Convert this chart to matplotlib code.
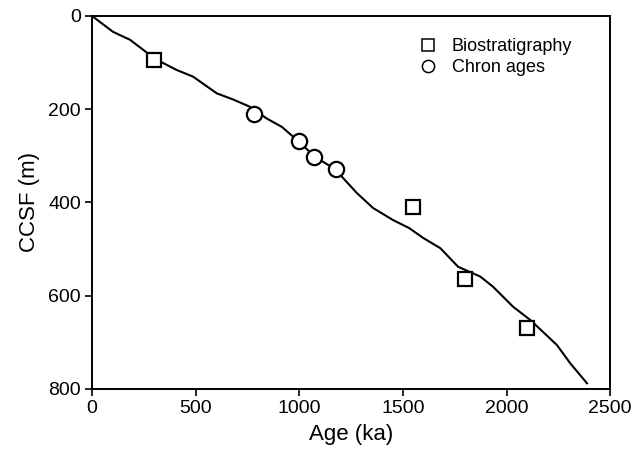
import matplotlib
matplotlib.use("Agg")
import matplotlib.pyplot as plt

plt.rcParams['font.family'] = ['Liberation Sans', 'DejaVu Sans']

# age model curve (ka vs CCSF depth in m)
curve_age = [0, 101, 183, 304, 409, 487, 602, 680, 763, 843, 916, 988, 1076, 1173,
             1278, 1356, 1453, 1530, 1597, 1680, 1766, 1873, 1935, 2032, 2114, 2243, 2307, 2388]
curve_depth = [0, 34, 51, 92, 116, 130, 166, 179, 195, 220, 238, 266, 302, 329,
               380, 412, 438, 455, 476, 498, 538, 559, 581, 624, 652, 706, 745, 788]

# tie points
bio_age = [300, 1550, 1800, 2100]
bio_depth = [95, 409, 564, 670]
chron_age = [780, 1000, 1070, 1175]
chron_depth = [210, 268, 303, 328]

fig = plt.figure(figsize=(6.35, 4.57), dpi=100)
ax = fig.add_axes([0.145, 0.149, 0.816, 0.816])

ax.plot(curve_age, curve_depth, color='black', lw=1.5, zorder=2)
ax.plot(bio_age, bio_depth, 's', ms=10, mfc='white', mec='black', mew=1.6,
        label='Biostratigraphy', zorder=3)
ax.plot(chron_age, chron_depth, 'o', ms=11, mfc='white', mec='black', mew=1.6,
        label='Chron ages', zorder=3)

ax.set_xlim(0, 2500)
ax.set_ylim(800, 0)
ax.set_xticks([0, 500, 1000, 1500, 2000, 2500])
ax.set_yticks([0, 200, 400, 600, 800])
ax.tick_params(direction='out', length=5, width=1.2, labelsize=14, pad=3)
for s in ax.spines.values():
    s.set_linewidth(1.4)

ax.set_xlabel('Age (ka)', fontsize=16, labelpad=5)
ax.set_ylabel('CCSF (m)', fontsize=16, labelpad=6)

leg = ax.legend(loc='upper right', bbox_to_anchor=(0.972, 1.004), frameon=False,
                fontsize=13, markerscale=0.8, handletextpad=0.3, labelspacing=0.25,
                borderaxespad=0.9)
for h in leg.legend_handles:
    h.set_markeredgewidth(1.1)

fig.savefig('out.png', dpi=100)
plt.close(fig)
